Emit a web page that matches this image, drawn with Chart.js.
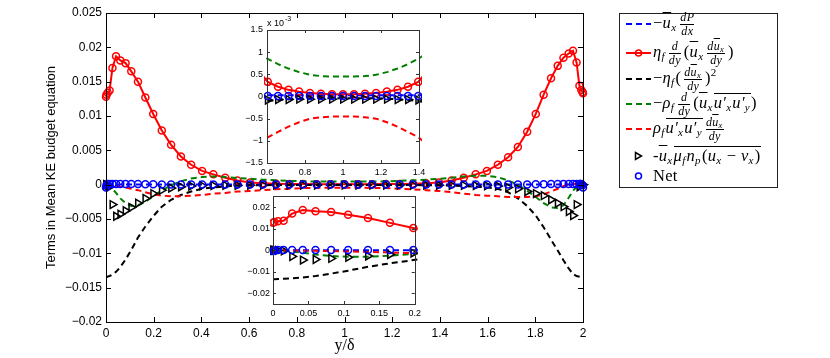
<!DOCTYPE html>
<html>
<head>
<meta charset="utf-8">
<script src="https://cdn.jsdelivr.net/npm/chart.js@4.4.1/dist/chart.umd.min.js"></script>
<style>
  body { margin: 0; background: #fff; }
  #fig { position: relative; width: 830px; height: 358px; overflow: hidden; background: #fff; }
  #fig canvas { position: absolute; }
  #legend { position: absolute; left: 619px; top: 13px; width: 157px; height: 173px; border: 1px solid #222;
            background: #fff; font-family: "Liberation Serif", serif; font-size: 16.5px; color: #000; }
  .row { position: absolute; left: 5px; height: 24px; display: flex; align-items: center; white-space: nowrap; letter-spacing: 0.3px; }
  .row svg { flex: none; margin-right: 1px; }
  .fr { display: inline-flex; flex-direction: column; vertical-align: middle; font-size: 12px; line-height: 1.02;
        text-align: center; margin: 0 3px; }
  .fr > span:first-child { border-bottom: 1px solid #000; }
  .fr sub { font-size: 8.5px; vertical-align: -2px; }
  .ov { text-decoration: overline; }
  .ov2 { display: inline-block; border-top: 1px solid #000; line-height: 1.15; }
  sub { font-size: 11px; vertical-align: -3px; line-height: 0; margin-right: 1px; }
  sup { font-size: 11px; vertical-align: 7px; line-height: 0; }
</style>
</head>
<body>
<div id="fig">
  <canvas id="main" width="830" height="358" style="left:0;top:0"></canvas>
  <canvas id="insetTop" width="215" height="175" style="left:215px;top:8px"></canvas>
  <canvas id="insetBottom" width="200" height="132" style="left:225px;top:188px"></canvas>
  <div id="legend"></div>
</div>
<script>
// grille en y/delta (points du calcul)
const xGrid = [0, 0.002, 0.007, 0.015, 0.027, 0.042, 0.060, 0.082, 0.106, 0.134,
  0.165, 0.198, 0.234, 0.273, 0.314, 0.357, 0.403, 0.450, 0.500, 0.551,
  0.604, 0.658, 0.713, 0.769, 0.826, 0.884, 0.942, 1.000, 1.058, 1.116,
  1.174, 1.231, 1.287, 1.342, 1.396, 1.449, 1.500, 1.550, 1.597, 1.643,
  1.686, 1.727, 1.766, 1.802, 1.835, 1.866, 1.894, 1.918, 1.940, 1.958,
  1.973, 1.985, 1.993, 1.998, 2.000];

// termes du bilan
const pressureWork = [0, 0.000001, 0.000003, 0.000006, 0.00001, 0.00001, 0.00001, 0.00002, 0.00002, 0.00002,
  0.00002, 0.00002, 0.00002, 0.00003, 0.00003, 0.00003, 0.00003, 0.00003, 0.00003, 0.00003,
  0.00003, 0.00003, 0.00003, 0.00003, 0.00003, 0.00003, 0.00003, 0.00003, 0.00003, 0.00003,
  0.00003, 0.00003, 0.00003, 0.00003, 0.00003, 0.00003, 0.00003, 0.00003, 0.00003, 0.00003,
  0.00003, 0.00003, 0.00002, 0.00002, 0.00002, 0.00002, 0.00002, 0.00002, 0.00001, 0.00001,
  0.00001, 0.000006, 0.000003, 0.000001, 0];
const viscDiffusion = [0.0128, 0.0131, 0.0134, 0.0137, 0.0170, 0.0187, 0.0181, 0.0177, 0.0165, 0.0150,
  0.0127, 0.0103, 0.0079, 0.0058, 0.0041, 0.0029, 0.0020, 0.0015, 0.0010, 0.00060,
  0.00033, 0.00022, 0.00015, 0.00011, 0.00008, 0.00006, 0.00005, 0.00005, 0.00005, 0.00006,
  0.00008, 0.00011, 0.00015, 0.00022, 0.00033, 0.00060, 0.0010, 0.0015, 0.0020, 0.0029,
  0.0040, 0.0055, 0.0077, 0.0103, 0.0131, 0.0155, 0.0173, 0.0185, 0.0191, 0.0195,
  0.0178, 0.0144, 0.0138, 0.0135, 0.0133];
const dissipation = [-0.0135, -0.0135, -0.0134, -0.0133, -0.0131, -0.0127, -0.0120, -0.0109, -0.0095, -0.0077,
  -0.0061, -0.0046, -0.0032, -0.0022, -0.0015, -0.0010, -0.0006, -0.0004, -0.00025, -0.00015,
  -0.00010, -0.00008, -0.00006, -0.00005, -0.00004, -0.00004, -0.00004, -0.00004, -0.00004, -0.00004,
  -0.00004, -0.00005, -0.00006, -0.00008, -0.00010, -0.00015, -0.0002, -0.0003, -0.0004, -0.0006,
  -0.0011, -0.0020, -0.0031, -0.0045, -0.0062, -0.0080, -0.0096, -0.0110, -0.0122, -0.0130,
  -0.0133, -0.0134, -0.0135, -0.0135, -0.0135];
const turbTransport = [0, 0, -0.0001, -0.0003, -0.0006, -0.0012, -0.0020, -0.0027, -0.0031, -0.0030,
  -0.0025, -0.0017, -0.0008, -0.0001, 0.0005, 0.0009, 0.0011, 0.0012, 0.0011, 0.00098,
  0.00085, 0.00073, 0.00063, 0.00055, 0.00049, 0.00046, 0.00045, 0.00045, 0.00045, 0.00046,
  0.00049, 0.00055, 0.00063, 0.00073, 0.00085, 0.00100, 0.0012, 0.0013, 0.0013, 0.0011,
  0.0006, 0.0000, -0.0009, -0.0018, -0.0027, -0.0033, -0.0034, -0.0030, -0.0019, -0.0009,
  -0.0003, 0, 0, 0, 0];
const turbProduction = [0, 0, 0, -0.00005, -0.0001, -0.0002, -0.0003, -0.0004, -0.0006, -0.0008,
  -0.0011, -0.0014, -0.0016, -0.0017, -0.0017, -0.0016, -0.0015, -0.0013, -0.0012, -0.0010,
  -0.00092, -0.00080, -0.00068, -0.00058, -0.00050, -0.00047, -0.00045, -0.00045, -0.00045, -0.00047,
  -0.00050, -0.00058, -0.00068, -0.00080, -0.00092, -0.0011, -0.0013, -0.0015, -0.0016, -0.0017,
  -0.0018, -0.0018, -0.0018, -0.0017, -0.0014, -0.0010, -0.0006, -0.0002, 0, 0.0001,
  0.0001, 0.0001, 0, 0, 0];
const particleTerm = [0, 0, -0.0001, -0.0003, -0.0029, -0.0046, -0.0043, -0.0038, -0.0033, -0.0027,
  -0.0020, -0.0013, -0.0008, -0.0005, -0.0003, -0.0002, -0.00015, -0.00012, -0.00010, -0.00009,
  -0.00008, -0.00007, -0.00007, -0.00006, -0.00006, -0.00006, -0.00006, -0.00006, -0.00006, -0.00006,
  -0.00006, -0.00006, -0.00007, -0.00007, -0.00008, -0.00009, -0.00010, -0.00012, -0.00015, -0.0002,
  -0.0004, -0.0006, -0.0010, -0.0013, -0.0016, -0.0022, -0.0027, -0.0032, -0.0039, -0.0045,
  -0.0029, -0.0003, -0.0001, 0, 0];
const netTerm = [-0.0004, -0.0001, 0.0001, 0.0001, 0.0001, 0.0001, 0.0001, 0.0001, 0.0001, 0.00008,
  0.00006, 0.00005, 0.00004, 0.00003, 0.00002, 0.00002, 0.00002, 0.00002, 0.00001, 0.00001,
  0.00001, 0.00001, 0.00001, 0.00001, 0.00001, 0.00001, 0.00001, 0.00001, 0.00001, 0.00001,
  0.00001, 0.00001, 0.00001, 0.00001, 0.00001, 0.00001, 0.00001, 0.00002, 0.00002, 0.00002,
  0.00002, 0.00003, 0.00004, 0.00005, 0.00006, 0.00008, 0.0001, 0.0001, 0.0001, 0.0001,
  0.0001, 0.0001, 0.0001, -0.0001, -0.0004];

// graduations
const mainXTicks = [0, 0.2, 0.4, 0.6, 0.8, 1, 1.2, 1.4, 1.6, 1.8, 2];
const mainYTicks = [-0.02, -0.015, -0.01, -0.005, 0, 0.005, 0.01, 0.015, 0.02, 0.025];
const topXTicks = [0.6, 0.8, 1, 1.2, 1.4];
const topYTicks = [-0.0015, -0.001, -0.0005, 0, 0.0005, 0.001, 0.0015];
const botXTicks = [0, 0.05, 0.1, 0.15, 0.2];
const botYTicks = [-0.02, -0.01, 0, 0.01, 0.02];
const topExponent = ['x 10', '-3'];

const xTitle = 'y/\u03b4';
const yTitle = 'Terms in Mean KE budget equation';

// légende (formules)
const fr = (a, b) => `<span class="fr"><span>${a}</span><span>${b}</span></span>`;
const ddy = fr('<i>d</i>', '<i>dy</i>');
const dudy = fr('<i>d<span class="ov">u</span></i><sub><i>x</i></sub>', '<i>dy</i>');
const ubar = '<i class="ov">u</i><sub><i>x</i></sub>';
const uvbar = '<span class="ov2"><i>u\u2032</i><sub><i>x</i></sub><i>u\u2032</i><sub><i>y</i></sub></span>';
const legendLabels = [
  `\u2212${ubar}${fr('<i>dP</i>', '<i>dx</i>')}`,
  `<i>\u03b7</i><sub><i>f</i></sub>${ddy}(${ubar}${dudy})`,
  `\u2212<i>\u03b7</i><sub><i>f</i></sub>(${dudy})<sup>2</sup>`,
  `\u2212<i>\u03c1</i><sub><i>f</i></sub>${ddy}(${ubar}${uvbar})`,
  `<i>\u03c1</i><sub><i>f</i></sub>${uvbar}${dudy}`,
  `-${ubar}<span class="ov2"><i>\u03bc</i><sub><i>f</i></sub><i>n</i><sub><i>p</i></sub>(<i>u</i><sub><i>x</i></sub> \u2212 <i>v</i><sub><i>x</i></sub>)</span>`,
  'Net'
];
const legendRowY = [10, 39, 65, 90, 115, 142, 162];

const series = [
  { data: pressureWork, color: '#0000ff', dash: [6, 4], line: true },
  { data: viscDiffusion, color: '#ff0000', dash: null, line: true, marker: 'circle' },
  { data: dissipation, color: '#000000', dash: [6, 4], line: true },
  { data: turbTransport, color: '#008000', dash: [6, 4], line: true },
  { data: turbProduction, color: '#ff0000', dash: [6, 4], line: true },
  { data: particleTerm, color: '#000000', line: false, marker: 'triangle' },
  { data: netTerm, color: '#0000ff', line: false, marker: 'circle' }
];

function buildSets(clip) {
  return series.map((s, i) => ({
    data: xGrid.map((x, k) => ({ x: x, y: s.data[k] })),
    showLine: s.line,
    borderColor: s.color,
    borderWidth: 2,
    borderDash: s.dash || [],
    tension: 0,
    pointRadius: s.marker ? (s.marker === 'triangle' ? 4.5 : 3.5) : 0,
    pointStyle: s.marker === 'triangle' ? 'triangle' : 'circle',
    pointRotation: s.marker === 'triangle' ? 90 : 0,
    pointBorderColor: s.color,
    pointBackgroundColor: 'rgba(0,0,0,0)',
    pointBorderWidth: 1.5,
    order: series.length - i,
    clip: clip
  }));
}

// cadre + graduations vers l'intérieur (style matlab)
const frame = {
  id: 'frame',
  beforeDraw(chart, args, o) {
    if (!o.fill) return;
    const a = chart.chartArea, ctx = chart.ctx;
    ctx.save();
    ctx.fillStyle = '#fff';
    ctx.fillRect(a.left, a.top, a.right - a.left, a.bottom - a.top);
    ctx.restore();
  },
  afterDraw(chart, args, o) {
    const { ctx, chartArea: a, scales: { x, y } } = chart;
    ctx.save();
    ctx.strokeStyle = o.color;
    ctx.lineWidth = 1;
    ctx.setLineDash([]);
    ctx.beginPath();
    for (const t of x.ticks) {
      const p = Math.round(x.getPixelForValue(t.value)) + 0.5;
      ctx.moveTo(p, a.bottom); ctx.lineTo(p, a.bottom - o.len);
      ctx.moveTo(p, a.top); ctx.lineTo(p, a.top + o.len);
    }
    for (const t of y.ticks) {
      const p = Math.round(y.getPixelForValue(t.value)) + 0.5;
      ctx.moveTo(a.left, p); ctx.lineTo(a.left + o.len, p);
      ctx.moveTo(a.right, p); ctx.lineTo(a.right - o.len, p);
    }
    ctx.stroke();
    ctx.strokeRect(Math.round(a.left) + 0.5, Math.round(a.top) + 0.5,
                   Math.round(a.right - a.left), Math.round(a.bottom - a.top));
    if (o.exp) {
      ctx.fillStyle = '#000';
      ctx.font = '9px "Liberation Sans"';
      ctx.fillText(o.exp[0], a.left, a.top - 4);
      const w = ctx.measureText(o.exp[0]).width;
      ctx.font = '7px "Liberation Sans"';
      ctx.fillText(o.exp[1], a.left + w + 1, a.top - 9);
    }
    ctx.restore();
  }
};

const tickFmt = k => v => String(+(v * k).toFixed(4)).replace('-', '\u2212');

function makeChart(id, o) {
  return new Chart(document.getElementById(id), {
    type: 'line',
    data: { datasets: buildSets(o.clip) },
    options: {
      responsive: false,
      animation: false,
      events: [],
      layout: { padding: { top: o.padTop, right: o.padRight, left: 0, bottom: 0 } },
      plugins: {
        legend: { display: false },
        tooltip: { enabled: false },
        frame: { len: o.tick, color: o.boxColor, fill: o.fill, exp: o.exp }
      },
      scales: {
        x: {
          type: 'linear', min: o.xMin, max: o.xMax,
          afterBuildTicks: s => { s.ticks = o.xTicks.map(v => ({ value: v })); },
          afterFit: s => { s.height = o.xHeight; },
          grid: { display: false, drawTicks: false }, border: { display: false },
          ticks: { autoSkip: false, maxRotation: 0, padding: o.xPad, color: '#000',
                   font: { size: o.font }, callback: tickFmt(1) },
          title: o.xTitle || { display: false }
        },
        y: {
          type: 'linear', min: o.yMin, max: o.yMax,
          afterBuildTicks: s => { s.ticks = o.yTicks.map(v => ({ value: v })); },
          afterFit: s => { s.width = o.yWidth; },
          grid: { display: false, drawTicks: false }, border: { display: false },
          ticks: { autoSkip: false, padding: o.yPad, color: '#000',
                   font: { size: o.font }, callback: tickFmt(o.yScale || 1) },
          title: o.yTitle || { display: false }
        }
      }
    },
    plugins: [frame]
  });
}

Chart.defaults.font.family = '"Liberation Sans", Arial, sans-serif';
Chart.defaults.color = '#000';

// graphique principal
makeChart('main', {
  clip: false, padTop: 13, padRight: 247, xHeight: 36, yWidth: 106,
  xMin: 0, xMax: 2, yMin: -0.02, yMax: 0.025, xTicks: mainXTicks, yTicks: mainYTicks,
  font: 12, xPad: 4, yPad: 4, tick: 5, boxColor: '#000', fill: false,
  xTitle: { display: true, text: xTitle, color: '#000',
            font: { family: '"Liberation Serif", serif', size: 16 }, padding: { top: 0, bottom: 3 } },
  yTitle: { display: true, text: yTitle, color: '#000', font: { size: 13 }, padding: { top: 44, bottom: 0 } }
});

// encart centre du canal
makeChart('insetTop', {
  clip: 3, padTop: 22, padRight: 11, xHeight: 20, yWidth: 52,
  xMin: 0.6, xMax: 1.4, yMin: -0.0015, yMax: 0.0015, xTicks: topXTicks, yTicks: topYTicks, yScale: 1000,
  font: 9, xPad: 4, yPad: 4, tick: 3, boxColor: '#333', fill: true, exp: topExponent
});

// encart proche paroi
makeChart('insetBottom', {
  clip: 3, padTop: 6, padRight: 9, xHeight: 16, yWidth: 48,
  xMin: 0, xMax: 0.2, yMin: -0.025, yMax: 0.025, xTicks: botXTicks, yTicks: botYTicks,
  font: 9, xPad: 4, yPad: 3, tick: 3, boxColor: '#333', fill: true
});

// légende html
function sample(s) {
  let svg = '<svg width="27" height="12">';
  if (s.line) {
    svg += `<line x1="1" y1="6" x2="26" y2="6" stroke="${s.color}" stroke-width="2"` +
           (s.dash ? ` stroke-dasharray="${s.dash.join(' ')}"` : '') + '/>';
  }
  if (s.marker === 'circle') svg += `<circle cx="13.5" cy="6" r="3" fill="none" stroke="${s.color}" stroke-width="1.5"/>`;
  if (s.marker === 'triangle') svg += `<polygon points="10.5,2.5 16.5,6 10.5,9.5" fill="none" stroke="${s.color}" stroke-width="1.5"/>`;
  return svg + '</svg>';
}
const legend = document.getElementById('legend');
series.forEach((s, i) => {
  const row = document.createElement('div');
  row.className = 'row';
  row.style.top = (legendRowY[i] - 12) + 'px';
  row.innerHTML = sample(s) + '<span>' + legendLabels[i] + '</span>';
  legend.appendChild(row);
});
</script>
</body>
</html>
